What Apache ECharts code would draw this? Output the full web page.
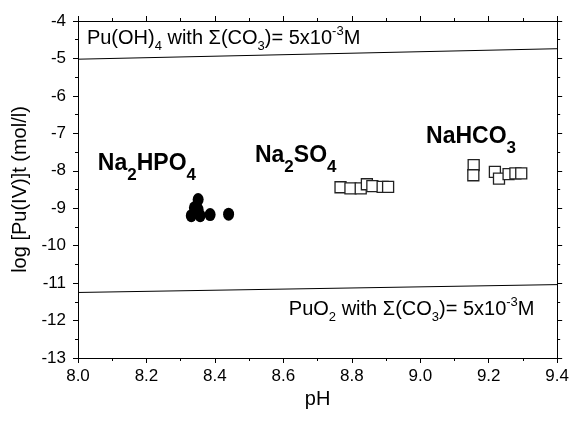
<!DOCTYPE html>
<html>
<head>
<meta charset="utf-8">
<script src="https://cdn.jsdelivr.net/npm/echarts@6/dist/echarts.min.js"></script>
<style>html,body{margin:0;padding:0;background:#fff;}#c{width:572px;height:422px;}</style>
</head>
<body>
<div id="c"></div>
<script>
// ---- data ----
const xTicks = [8.0, 8.2, 8.4, 8.6, 8.8, 9.0, 9.2, 9.4];
const yTicks = [-13, -12, -11, -10, -9, -8, -7, -6, -5, -4];
const na2hpo4 = [[8.331,-9.20],[8.340,-8.99],[8.351,-8.77],[8.351,-9.04],[8.357,-9.20],[8.386,-9.17],[8.440,-9.16]];
const na2so4 = [[8.767,-8.44],[8.796,-8.47],[8.826,-8.47],[8.844,-8.36],[8.860,-8.41],[8.890,-8.43],[8.906,-8.43]];
const nahco3 = [[9.156,-7.85],[9.155,-8.12],[9.218,-8.03],[9.230,-8.21],[9.258,-8.09],[9.278,-8.07],[9.295,-8.07]];
const puOH4Line = [[8.0,-5.02],[9.4,-4.74]];
const puO2Line = [[8.0,-11.25],[9.4,-11.04]];
const annotations = [
  {pos:[8.026,-4.47], text:'{n|Pu(OH)}{s|4}{n| with Σ(CO}{s|3}{n|)= 5x10}{p|-3}{n|M}'},
  {pos:[8.616,-11.71], text:'{n|PuO}{s|2}{n| with Σ(CO}{s|3}{n|)= 5x10}{p|-3}{n|M}'},
  {pos:[8.058,-7.81], text:'{b|Na}{bs|2}{b|HPO}{bs|4}'},
  {pos:[8.517,-7.59], text:'{b|Na}{bs|2}{b|SO}{bs|4}'},
  {pos:[9.017,-7.08], text:'{b|NaHCO}{bs|3}'}
];

const FF = '"Liberation Sans", Arial, sans-serif';
const rich = {
  n: {fontSize:20, lineHeight:28, fontFamily:FF, color:'#000'},
  s: {fontSize:13, lineHeight:15, verticalAlign:'bottom', fontFamily:FF, color:'#000'},
  p: {fontSize:13, lineHeight:22, verticalAlign:'top', fontFamily:FF, color:'#000'},
  b: {fontSize:23, lineHeight:40, fontWeight:'bold', fontFamily:FF, color:'#000'},
  bs: {fontSize:17, lineHeight:14, verticalAlign:'bottom', fontWeight:'bold', fontFamily:FF, color:'#000'}
};

const axisLine = {show:true, lineStyle:{color:'#000', width:1}};
const tick = {show:true, inside:false, length:5, lineStyle:{color:'#000', width:1}};
const minor = {show:true, splitNumber:2, length:3, lineStyle:{color:'#000', width:1}};

const chart = echarts.init(document.getElementById('c'), null, {renderer:'canvas'});
chart.setOption({
  animation:false,
  backgroundColor:'#fff',
  grid:{left:78, right:12, top:21, bottom:64, containLabel:false},
  xAxis:[
    {type:'value', min:xTicks[0], max:xTicks[xTicks.length-1], interval:0.2, position:'bottom',
     axisLine, axisTick:tick, minorTick:minor, splitLine:{show:false},
     axisLabel:{fontSize:17, color:'#000', fontFamily:FF, margin:10, formatter:v=>v.toFixed(1)},
     name:'pH', nameLocation:'middle', nameGap:28, nameTextStyle:{fontSize:20, color:'#000', fontFamily:FF}},
    {type:'value', min:xTicks[0], max:xTicks[xTicks.length-1], interval:0.2, position:'top',
     axisLine, axisTick:tick, minorTick:minor, splitLine:{show:false}, axisLabel:{show:false}}
  ],
  yAxis:[
    {type:'value', min:yTicks[0], max:yTicks[yTicks.length-1], interval:1, position:'left',
     axisLine, axisTick:tick, minorTick:minor, splitLine:{show:false},
     axisLabel:{fontSize:17, color:'#000', fontFamily:FF, margin:12},
     name:'log [Pu(IV)]t (mol/l)', nameLocation:'middle', nameGap:41, nameTextStyle:{fontSize:20, color:'#000', fontFamily:FF}},
    {type:'value', min:yTicks[0], max:yTicks[yTicks.length-1], interval:1, position:'right',
     axisLine, axisTick:tick, minorTick:minor, splitLine:{show:false}, axisLabel:{show:false}}
  ],
  series:[
    {type:'line', data:puOH4Line, symbol:'none', lineStyle:{color:'#000', width:1}, z:1},
    {type:'line', data:puO2Line, symbol:'none', lineStyle:{color:'#000', width:1}, z:1},
    {type:'scatter', data:na2hpo4, symbol:'circle', symbolSize:[11,13], itemStyle:{color:'#000', opacity:1}, z:3},
    {type:'scatter', data:na2so4, symbol:'rect', symbolSize:11, itemStyle:{color:'#fff', borderColor:'#222', borderWidth:1.3, opacity:1}, z:3},
    {type:'scatter', data:nahco3, symbol:'rect', symbolSize:11, itemStyle:{color:'#fff', borderColor:'#222', borderWidth:1.3, opacity:1}, z:3},
    {type:'scatter', symbolSize:0, silent:true, z:4, itemStyle:{opacity:1},
     data:annotations.map(a=>({value:a.pos, label:{show:true, color:'#000', opacity:1, position:[0,0], align:'left', verticalAlign:'middle', formatter:a.text, rich}}))}
  ]
});
</script>
</body>
</html>
